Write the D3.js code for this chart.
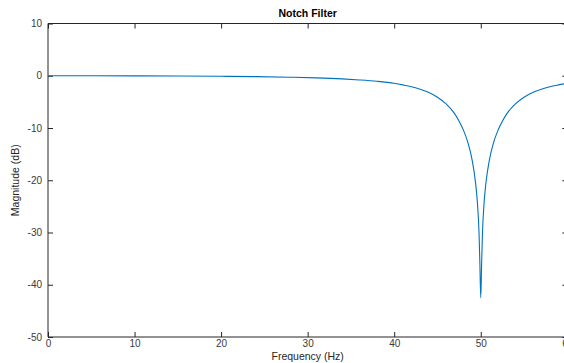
<!DOCTYPE html>
<html>
<head>
<meta charset="utf-8">
<script src="https://cdn.jsdelivr.net/npm/d3@7"></script>
<style>
  body { margin: 0; background: #fff; }
  svg { display: block; font-family: "Liberation Sans", Arial, sans-serif; }
  .tick text { fill: #3a3a3a; font-size: 10px; }
</style>
</head>
<body>
<svg id="chart" width="564" height="363"></svg>
<script>
// frequency (Hz) and magnitude (dB)
const freq = [0, 5, 10, 15, 20, 24, 28, 31, 34, 36, 38, 40, 41, 42, 43, 44, 45, 46, 47, 47.5, 48, 48.5, 49, 49.4, 49.6, 49.8, 49.9, 50,
  50.1, 50.2, 50.4, 50.6, 51, 51.5, 52, 52.5, 53, 54, 55, 56, 57, 58, 59, 60];
const magDb = [0, -0.01, -0.03, -0.06, -0.11, -0.17, -0.28, -0.4, -0.6, -0.8, -1.06, -1.45, -1.75, -2.1, -2.6, -3.2, -4.1, -5.4, -7.3, -8.7, -10.4, -12.7, -16.1, -20.5, -24, -30, -36, -42.5,
  -36, -30, -24, -20.5, -16.1, -12.7, -10.4, -8.7, -7.3, -5.4, -4.1, -3.2, -2.6, -2.1, -1.75, -1.45];
const xTicks = [0, 10, 20, 30, 40, 50, 60];
const yTicks = [-50, -40, -30, -20, -10, 0, 10];

const margin = { top: 23.5, left: 48, right: 567.3, bottom: 337 };
const svg = d3.select("#chart");

const x = d3.scaleLinear().domain([0, 60]).range([margin.left, margin.right]);
const y = d3.scaleLinear().domain([-50, 10]).range([margin.bottom, margin.top]);

const tickLen = 5;
const axisColor = "#262626";
const plain = d => String(d);

function styleAxis(g) {
  g.select(".domain").remove();
  g.selectAll(".tick line").attr("stroke", axisColor);
}

// bottom axis with inward ticks
svg.append("g")
  .attr("transform", `translate(0,${margin.bottom})`)
  .call(d3.axisBottom(x).tickValues(xTicks).tickSize(-tickLen).tickPadding(3).tickFormat(plain))
  .call(styleAxis);

// top ticks
svg.append("g")
  .attr("transform", `translate(0,${margin.top})`)
  .call(d3.axisTop(x).tickValues(xTicks).tickSize(-tickLen).tickFormat(""))
  .call(styleAxis);

// left axis
svg.append("g")
  .attr("transform", `translate(${margin.left},0)`)
  .call(d3.axisLeft(y).tickValues(yTicks).tickSize(-tickLen).tickPadding(6).tickFormat(plain))
  .call(styleAxis);

// right ticks
svg.append("g")
  .attr("transform", `translate(${margin.right},0)`)
  .call(d3.axisRight(y).tickValues(yTicks).tickSize(-tickLen).tickFormat(""))
  .call(styleAxis);

// box
svg.append("line").attr("x1", margin.left).attr("x2", margin.right).attr("y1", margin.top).attr("y2", margin.top)
  .attr("stroke", axisColor);
svg.append("line").attr("x1", margin.right).attr("x2", margin.right).attr("y1", margin.top).attr("y2", margin.bottom)
  .attr("stroke", axisColor);
svg.append("line").attr("x1", margin.left).attr("x2", margin.left).attr("y1", margin.top).attr("y2", margin.bottom)
  .attr("stroke", axisColor);
svg.append("line").attr("x1", margin.left).attr("x2", margin.right).attr("y1", margin.bottom).attr("y2", margin.bottom)
  .attr("stroke", axisColor);

// response curve
const line = d3.line()
  .x((d, i) => x(freq[i]))
  .y(d => y(d))
  .curve(d3.curveMonotoneX);

svg.append("path")
  .datum(magDb)
  .attr("fill", "none")
  .attr("stroke", "#0072BD")
  .attr("stroke-width", 1.1)
  .attr("d", line);

// title and labels
svg.append("text")
  .attr("x", (margin.left + margin.right) / 2)
  .attr("y", 17)
  .attr("text-anchor", "middle")
  .attr("font-size", 10.5)
  .attr("font-weight", "bold")
  .attr("fill", "#000")
  .text("Notch Filter");

svg.append("text")
  .attr("x", (margin.left + margin.right) / 2)
  .attr("y", 360)
  .attr("text-anchor", "middle")
  .attr("font-size", 10.5)
  .attr("fill", "#262626")
  .text("Frequency (Hz)");

svg.append("text")
  .attr("transform", `translate(19,${(margin.top + margin.bottom) / 2}) rotate(-90)`)
  .attr("text-anchor", "middle")
  .attr("font-size", 10.5)
  .attr("fill", "#262626")
  .text("Magnitude (dB)");
</script>
</body>
</html>
